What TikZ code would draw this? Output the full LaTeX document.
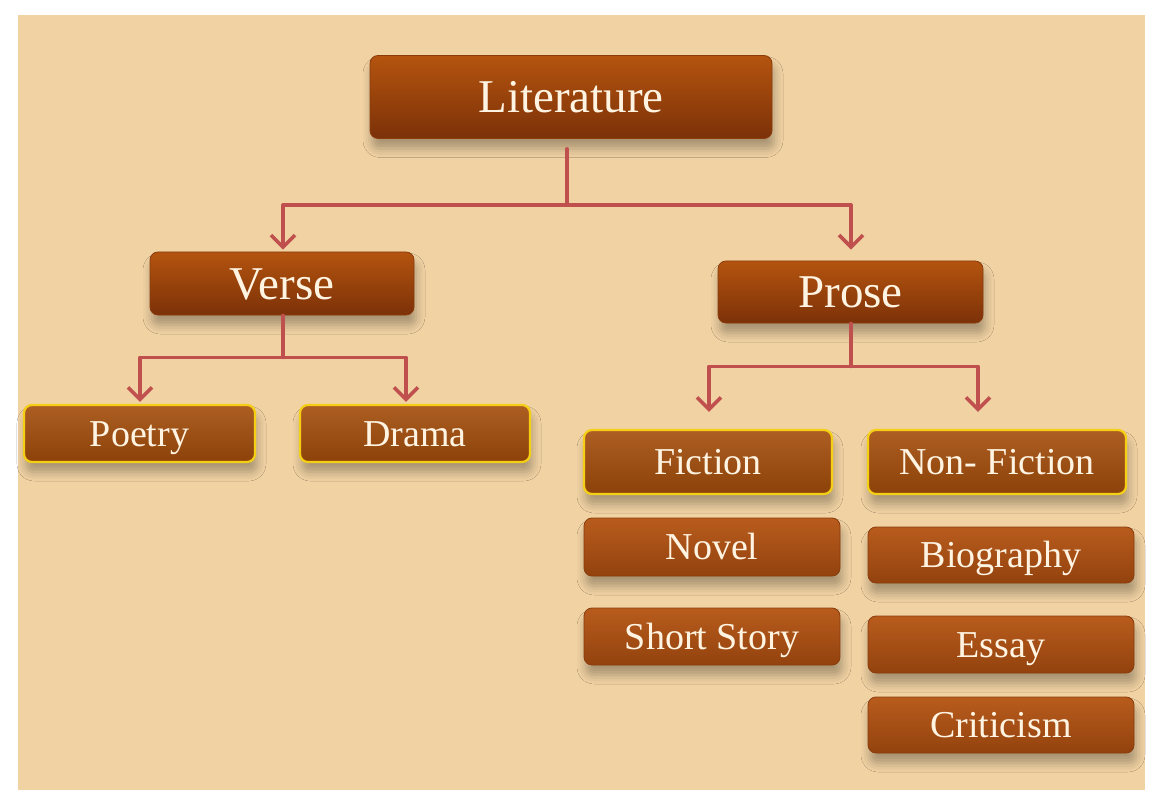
\documentclass[tikz,border=0pt]{standalone}
\usepackage{fontspec}
\setmainfont{Liberation Serif}
\usetikzlibrary{arrows.meta,calc,shadows.blur}
\definecolor{panel}{HTML}{F0D2A3}
\definecolor{conncol}{HTML}{C0504D}
\definecolor{btop}{HTML}{B85C1D}
\definecolor{bbot}{HTML}{93420E}
\definecolor{ltop}{HTML}{B4540F}
\definecolor{lbot}{HTML}{7C3108}
\definecolor{flat}{HTML}{A44D0A}
\definecolor{gold}{HTML}{F5CF16}
\definecolor{txt}{HTML}{FFF4E2}
\definecolor{edge}{HTML}{8A3C0C}
\tikzset{
  box/.style={rounded corners=8pt, inner sep=0pt, text=txt, draw=edge, line width=0.8pt,
    top color=btop, bottom color=bbot, text height=25pt, text depth=0pt,
    blur shadow={shadow xshift=2pt, shadow yshift=-10pt, shadow blur radius=9pt, shadow opacity=30},
    font=\fontsize{38}{40}\selectfont},
  bigbox/.style={box, top color=ltop, bottom color=lbot, text height=31pt, font=\fontsize{47}{49}\selectfont},
  goldbox/.style={box, top color=flat!90!white, bottom color=flat!85!black, draw=gold, line width=2.2pt},
  conn/.style={draw=conncol, line width=3.6pt, line cap=round, line join=round,
    -{Straight Barb[length=12pt,width=24pt]}},
  plain/.style={draw=conncol, line width=3.6pt, line cap=round}
}
\begin{document}
\begin{tikzpicture}[x=1pt,y=-1pt]
\useasboundingbox (0,0) rectangle (1160,805);
\fill[white] (0,0) rectangle (1160,805);
\fill[panel] (18,15) rectangle (1145,790);

\node[bigbox, minimum width=402pt, minimum height=83pt] (lit) at (571,97) {Literature};
\node[bigbox, minimum width=264pt, minimum height=63pt] (verse) at (282,283.5) {Verse};
\node[bigbox, minimum width=265pt, minimum height=62pt] (prose) at (850.5,292) {Prose};

\node[goldbox, minimum width=231pt, minimum height=57pt] (poetry) at (139.5,433.5) {Poetry};
\node[goldbox, minimum width=230pt, minimum height=57pt] (drama) at (415,433.5) {Drama};
\node[goldbox, minimum width=248pt, minimum height=64pt] (fiction) at (708,462) {Fiction};
\node[goldbox, minimum width=258pt, minimum height=64pt] (nonfic) at (997,462) {Non- Fiction};

\node[box, minimum width=256pt, minimum height=58pt] (novel) at (712,547) {Novel};
\node[box, minimum width=256pt, minimum height=57pt] (short) at (712,636.5) {Short Story};
\node[box, minimum width=266pt, minimum height=56pt] (bio) at (1001,555) {Biography};
\node[box, minimum width=266pt, minimum height=57pt] (essay) at (1001,644.5) {Essay};
\node[box, minimum width=266pt, minimum height=56pt] (crit) at (1001,725) {Criticism};

\coordinate (litj) at ($(lit.south)+(-4,10)$);
\coordinate (litm) at ($(litj)+(0,56)$);
\draw[plain] (litj) -- (litm);
\draw[conn] (litm) -| ($(verse.north)+(1,-2)$);
\draw[conn] (litm) -| ($(prose.north)+(0.5,-11)$);

\coordinate (versem) at ($(verse.south)+(1,42)$);
\draw[plain] ($(verse.south)+(1,0)$) -- (versem);
\draw[conn] (versem) -| ($(poetry.north)+(0.5,-2)$);
\draw[conn] (versem) -| ($(drama.north)+(-9,-2)$);

\coordinate (prosem) at ($(prose.south)+(0.5,43)$);
\draw[plain] ($(prose.south)+(0.5,0)$) -- (prosem);
\draw[conn] (prosem) -| ($(fiction.north)+(1,-17)$);
\draw[conn] (prosem) -| ($(nonfic.north)+(-19,-17)$);
\end{tikzpicture}
\end{document}
